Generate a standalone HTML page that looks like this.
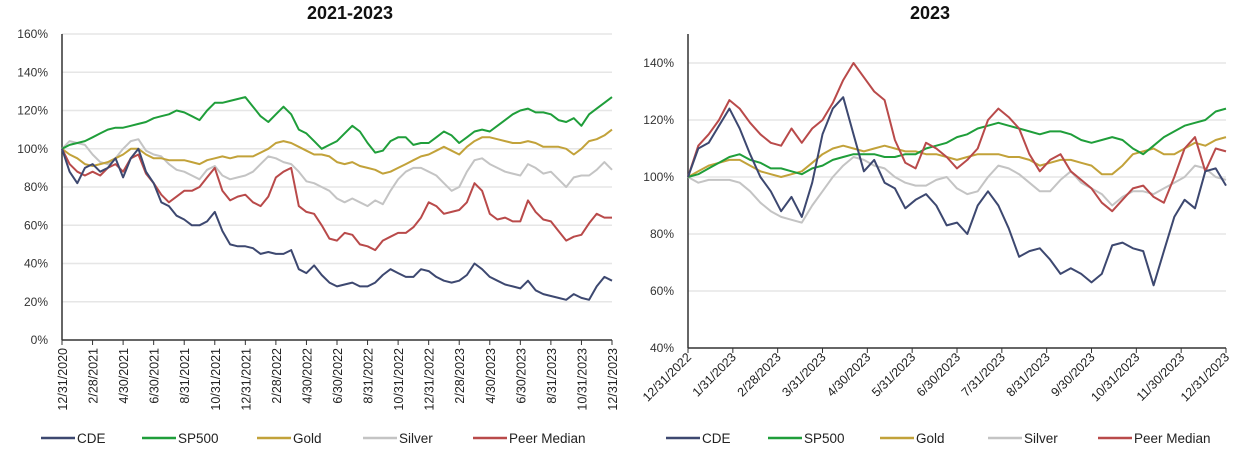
<!DOCTYPE html>
<html><head><meta charset="utf-8">
<style>
body{margin:0;background:#fff;}
svg{display:block;font-family:"Liberation Sans",Arial,sans-serif;}
</style></head>
<body>
<svg id="chart" width="1248" height="458" viewBox="0 0 1248 458" xmlns="http://www.w3.org/2000/svg">
<rect width="1248" height="458" fill="#fff"/>
<text x="350" y="19" text-anchor="middle" font-size="18" font-weight="bold" fill="#111">2021-2023</text>
<text x="930" y="19" text-anchor="middle" font-size="18" font-weight="bold" fill="#111">2023</text>
<g id="left"></g>
<g id="right"></g>
</svg>
<script>
// ---- Left chart data (half-month points, 12/31/2020 - 12/31/2023) ----
const leftTicks = ["12/31/2020","2/28/2021","4/30/2021","6/30/2021","8/31/2021","10/31/2021","12/31/2021","2/28/2022","4/30/2022","6/30/2022","8/31/2022","10/31/2022","12/31/2022","2/28/2023","4/30/2023","6/30/2023","8/31/2023","10/31/2023","12/31/2023"];
const leftYTicks = [0,20,40,60,80,100,120,140,160];
const leftCDE = [100,88,82,90,92,88,90,95,85,95,100,88,82,72,70,65,63,60,60,62,67,57,50,49,49,48,45,46,45,45,47,37,35,39,34,30,28,29,30,28,28,30,34,37,35,33,33,37,36,33,31,30,31,34,40,37,33,31,29,28,27,31,26,24,23,22,21,24,22,21,28,33,31];
const leftSP = [100,102,103,104,106,108,110,111,111,112,113,114,116,117,118,120,119,117,115,120,124,124,125,126,127,122,117,114,118,122,118,110,108,104,100,102,104,108,112,109,103,98,99,104,106,106,102,103,103,106,109,107,103,106,109,110,109,112,115,118,120,121,119,119,118,115,114,116,112,118,121,124,127];
const leftGold = [100,97,95,92,91,92,93,95,97,100,100,97,95,95,94,94,94,93,92,94,95,96,95,96,96,96,98,100,103,104,103,101,99,97,97,96,93,92,93,91,90,89,87,88,90,92,94,96,97,99,101,99,97,101,104,106,106,105,104,103,103,104,103,101,101,101,100,97,100,104,105,107,110];
const leftSilver = [100,104,103,102,97,93,92,95,100,104,105,99,97,96,92,89,88,86,84,89,91,86,84,85,86,88,92,96,95,93,92,88,83,82,80,78,74,72,74,72,70,73,71,78,84,88,90,90,88,86,82,78,80,88,94,95,92,90,88,87,86,92,90,87,88,84,80,85,86,86,89,93,89];
const leftPeer = [100,92,88,86,88,86,90,92,88,95,97,87,82,76,72,75,78,78,80,85,90,78,73,75,76,72,70,75,85,88,90,70,67,66,60,53,52,56,55,50,49,47,52,54,56,56,59,64,72,70,66,67,68,72,82,78,66,63,64,62,62,73,67,63,62,57,52,54,55,61,66,64,64];
// ---- Right chart data (weekly points, 12/31/2022 - 12/31/2023) ----
const rightTicks = ["12/31/2022","1/31/2023","2/28/2023","3/31/2023","4/30/2023","5/31/2023","6/30/2023","7/31/2023","8/31/2023","9/30/2023","10/31/2023","11/30/2023","12/31/2023"];
const rightYTicks = [40,60,80,100,120,140];
const rightCDE = [100,110,112,118,124,117,108,100,95,88,93,86,98,115,124,128,115,102,106,98,96,89,92,94,90,83,84,80,90,95,90,82,72,74,75,71,66,68,66,63,66,76,77,75,74,62,74,86,92,89,102,103,97];
const rightSP = [100,101,103,105,107,108,106,105,103,103,102,101,103,104,106,107,108,108,108,107,107,108,108,110,111,112,114,115,117,118,119,118,117,116,115,116,116,115,113,112,113,114,113,110,108,111,114,116,118,119,120,123,124];
const rightGold = [100,102,104,105,106,106,104,102,101,100,101,102,105,108,110,111,110,109,110,111,110,109,109,108,108,107,106,107,108,108,108,107,107,106,104,105,106,106,105,104,101,101,104,108,109,110,108,108,110,112,111,113,114];
const rightSilver = [100,98,99,99,99,98,95,91,88,86,85,84,90,95,100,104,107,106,104,103,100,98,97,97,99,100,96,94,95,100,104,103,101,98,95,95,99,102,98,96,94,90,93,95,95,94,96,98,100,104,103,100,99];
const rightPeer = [100,111,115,120,127,124,119,115,112,111,117,112,117,120,126,134,140,135,130,127,113,105,103,112,110,107,103,106,110,120,124,121,117,108,102,106,108,102,99,96,91,88,92,96,97,93,91,100,110,114,102,110,109];
const seriesNames = ["CDE","SP500","Gold","Silver","Peer Median"];
const seriesColors = ["#3d4870","#1f9e3a","#c2a23a","#c4c4c4","#b94a4a"];

const NS="http://www.w3.org/2000/svg";
function mk(tag,attrs,parent){const e=document.createElementNS(NS,tag);for(const k in attrs)e.setAttribute(k,attrs[k]);parent.appendChild(e);return e;}

function drawChart(g,cfg){
  const {x0,x1,yTop,yBottom,vMin,vMax,yTicks,xTicks,series,rot,labelX,legend,prefix}=cfg;
  const ys=v=>yBottom-(v-vMin)/(vMax-vMin)*(yBottom-cfg.axisTopVal);
  const xt=i=>x0+i/(xTicks.length-1)*(x1-x0);
  yTicks.forEach(v=>{
    if(v!==vMin){const l=mk('line',{x1:x0,x2:x1,y1:ys(v),y2:ys(v),stroke:'#e6e6e6','stroke-width':1.5},g);
    
    }
    const t=mk('text',{x:labelX,y:ys(v)+4,'text-anchor':'end','font-size':12,fill:'#333'},g);
    t.textContent=v+'%';
    
    
  });
  const ax=mk('line',{x1:x0,x2:x0,y1:yTop,y2:yBottom,stroke:'#333','stroke-width':1.5},g);
  
  
  const bx=mk('line',{x1:x0,x2:x1,y1:yBottom,y2:yBottom,stroke:'#333','stroke-width':1.5},g);
  
  
  xTicks.forEach((lab,i)=>{
    const x=xt(i);
    const tk=mk('line',{x1:x,x2:x,y1:yBottom,y2:yBottom+5,stroke:'#333','stroke-width':1},g);
    
    
    let t;
    if(rot===-90){t=mk('text',{x:0,y:0,'text-anchor':'end','font-size':12.5,fill:'#222',transform:`translate(${x+5},${yBottom+8}) rotate(-90)`},g);}
    else{t=mk('text',{x:0,y:0,'text-anchor':'end','font-size':12.5,fill:'#222',transform:`translate(${x+4},${yBottom+10}) rotate(-45)`},g);}
    t.textContent=lab;
    
    
  });
  // draw in order: silver, gold, sp, peer, cde
  [3,2,1,4,0].forEach(si=>{
    const d=series[si];
    const pts=d.map((v,i)=>(x0+i/(d.length-1)*(x1-x0)).toFixed(1)+','+ys(v).toFixed(1)).join(' ');
    const p=mk('polyline',{points:pts,fill:'none',stroke:seriesColors[si],'stroke-width':2,'stroke-linejoin':'round'},g);
    
    
  });
  legend.forEach((lx,si)=>{
    const lg=mk('g',{},g);
    
    
    mk('line',{x1:lx,x2:lx+34,y1:438,y2:438,stroke:seriesColors[si],'stroke-width':2.5},lg);
    const t=mk('text',{x:lx+36,y:443,'font-size':13.5,fill:'#222'},lg);
    t.textContent=seriesNames[si];
  });
}
drawChart(document.getElementById('left'),{x0:62,x1:612,yTop:34,yBottom:340,vMin:0,vMax:160,axisTopVal:34,
  yTicks:leftYTicks,xTicks:leftTicks,series:[leftCDE,leftSP,leftGold,leftSilver,leftPeer],rot:-90,labelX:48,
  legend:[41,142,257,363,473],prefix:'left-'});
drawChart(document.getElementById('right'),{x0:688,x1:1226,yTop:34,yBottom:348,vMin:40,vMax:140,axisTopVal:63,
  yTicks:rightYTicks,xTicks:rightTicks,series:[rightCDE,rightSP,rightGold,rightSilver,rightPeer],rot:-45,labelX:674,
  legend:[666,768,880,988,1098],prefix:'right-'});
</script>
</body></html>
